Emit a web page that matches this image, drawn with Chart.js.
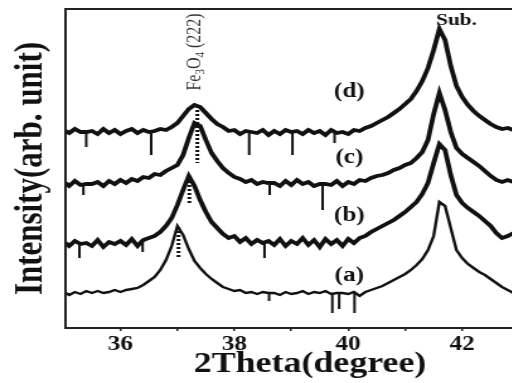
<!DOCTYPE html>
<html>
<head>
<meta charset="utf-8">
<script src="https://cdn.jsdelivr.net/npm/chart.js@4.4.1/dist/chart.umd.min.js"></script>
<style>
  html, body { margin: 0; padding: 0; background: #fff; overflow: hidden; }
  /* the source figure is stretched sideways, so the whole chart is too */
  #wrap { width: 442px; height: 383px; transform: scaleX(1.26); transform-origin: 0 0; }
</style>
</head>
<body>
<div id="wrap"><canvas id="xrd"></canvas></div>
<script>
const twoTheta = [35.04, 35.1, 35.2, 35.3, 35.4, 35.5, 35.6, 35.7, 35.8, 35.9,
  36.0, 36.1, 36.2, 36.3, 36.4, 36.5, 36.6, 36.7, 36.8, 36.9,
  37.0, 37.1, 37.2, 37.3, 37.4, 37.5, 37.6, 37.7, 37.8, 37.9,
  38.0, 38.1, 38.2, 38.3, 38.4, 38.5, 38.6, 38.7, 38.8, 38.9,
  39.0, 39.1, 39.2, 39.3, 39.4, 39.5, 39.6, 39.7, 39.8, 39.9,
  40.0, 40.1, 40.2, 40.3, 40.4, 40.5, 40.6, 40.7, 40.8, 40.9,
  41.0, 41.1, 41.2, 41.3, 41.4, 41.5, 41.6, 41.7, 41.8, 41.9,
  42.0, 42.1, 42.2, 42.3, 42.4, 42.5, 42.6, 42.7, 42.8, 42.9];

// offset intensities, arb. unit
const curveA = [35, 33, 36, 34, 37, 35, 37, 35, 36, 38,
  36, 38, 39, 40, 43, 47, 51, 58, 68, 82,
  102, 93, 79, 67, 60, 54, 49, 45, 41, 39,
  37, 38, 35, 36, 34, 36, 35, 35, 33, 36,
  34, 35, 37, 34, 36, 35, 37, 34, 35, 35,
  34, 36, 32, 36, 38, 40, 42, 45, 48, 51,
  54, 58, 63, 69, 78, 92, 126, 122, 100, 78,
  70, 64, 60, 56, 53, 49, 45, 41, 38, 35];
const curveB = [85, 82, 87, 84, 85, 82, 88, 81, 86, 84,
  87, 83, 89, 82, 88, 90, 92, 96, 102, 110,
  123, 138, 152, 142, 128, 116, 106, 100, 94, 90,
  92, 86, 90, 84, 88, 85, 87, 83, 89, 82,
  87, 84, 90, 83, 88, 81, 89, 84, 88, 82,
  89, 85, 90, 92, 96, 99, 102, 105, 108, 112,
  116, 121, 126, 134, 145, 165, 184, 178, 153, 133,
  125, 120, 116, 112, 107, 102, 95, 90, 92, 95];
const curveC = [145, 142, 147, 143, 144, 144, 146, 142, 147, 144,
  148, 145, 149, 147, 151, 150, 154, 153, 157, 160,
  163, 173, 190, 205, 202, 188, 175, 167, 160, 155,
  151, 149, 146, 148, 144, 146, 145, 145, 142, 147,
  143, 148, 144, 146, 142, 144, 144, 143, 147, 142,
  146, 144, 148, 147, 150, 152, 153, 155, 158, 160,
  163, 165, 170, 176, 188, 214, 235, 218, 196, 180,
  174, 170, 166, 162, 157, 152, 148, 146, 148, 146];
const curveD = [197, 195, 199, 196, 196, 197, 194, 199, 195, 198,
  194, 197, 199, 195, 198, 196, 197, 199, 198, 201,
  205, 212, 219, 223, 221, 215, 209, 204, 201, 197,
  198, 194, 197, 196, 195, 198, 193, 197, 194, 198,
  196, 197, 194, 198, 195, 197, 193, 198, 195, 196,
  194, 198, 197, 200, 202, 205, 208, 211, 215, 219,
  224, 229, 237, 247, 260, 278, 299, 288, 262, 242,
  231, 223, 217, 212, 208, 204, 201, 199, 200, 198];

// narrow downward glitches in the scans
const spikeTheta = [38.61, 39.72, 39.84, 40.11, 35.28, 36.39, 38.53, 35.35, 38.62, 39.55, 35.40, 36.54, 38.26, 39.02, 39.76];
const spikeBase = [35, 35, 35, 35, 84, 86, 86, 144, 145, 144, 196, 196, 196, 196, 195];
const spikeTip = [27, 15, 19, 15, 70, 76, 70, 133, 133, 118, 181, 173, 173, 173, 185];

// dotted markers under the Fe3O4 (222) peaks
const markTheta = [37.02, 37.21, 37.35];
const markTop = [101, 151, 218];
const markBottom = [71, 123, 165];

const xTickValues = [36, 37, 38, 39, 40, 41, 42, 43];
const xTickLabels = ['36', '', '38', '', '40', '', '42', ''];
const sampleNames = ['(a)', '(b)', '(c)', '(d)'];

const serif = '"Liberation Serif", "Times New Roman", serif';
const ink = '#111';

function toPoints(values) {
  return values.map((v, i) => ({ x: twoTheta[i], y: v }));
}

const datasets = [curveA, curveB, curveC, curveD].map((c, i) => ({
  data: toPoints(c),
  borderColor: ink,
  borderWidth: i === 0 ? 2.4 : 3.8,
  pointRadius: 0,
  tension: 0
}));

spikeTheta.forEach((t, i) => {
  datasets.push({
    data: [{ x: t, y: spikeBase[i] }, { x: t, y: spikeTip[i] }],
    borderColor: ink,
    borderWidth: 2,
    pointRadius: 0
  });
});

markTheta.forEach((t, i) => {
  datasets.push({
    data: [{ x: t, y: markTop[i] }, { x: t, y: markBottom[i] }],
    borderColor: ink,
    borderWidth: 3,
    borderDash: [2, 2],
    pointRadius: 0
  });
});

const labelSpots = { x: 40.02, y: [52, 112, 170, 236] };

const decorations = {
  id: 'decorations',
  afterDraw(chart) {
    const { ctx, chartArea: a, scales: { x, y } } = chart;
    ctx.save();
    ctx.strokeStyle = '#222';
    ctx.lineWidth = 2;
    ctx.strokeRect(a.left, a.top, a.right - a.left, a.bottom - a.top);

    ctx.fillStyle = ink;
    ctx.textAlign = 'center';
    ctx.textBaseline = 'middle';
    ctx.font = 'bold 20px ' + serif;
    sampleNames.forEach((n, i) => {
      ctx.fillText(n, x.getPixelForValue(labelSpots.x), y.getPixelForValue(labelSpots.y[i]));
    });
    ctx.font = 'bold 17px ' + serif;
    ctx.fillText('Sub.', x.getPixelForValue(41.9), y.getPixelForValue(307));

    // Fe3O4 (222), standing on its side
    const parts = [['Fe', 0], ['3', 1], ['O', 0], ['4', 1], [' (222)', 0]];
    const big = '16px ' + serif, small = '11px ' + serif;
    let total = 0;
    parts.forEach(p => { ctx.font = p[1] ? small : big; total += ctx.measureText(p[0]).width; });
    ctx.translate(x.getPixelForValue(37.32), y.getPixelForValue(276));
    ctx.rotate(-Math.PI / 2);
    ctx.fillStyle = '#333';
    ctx.textAlign = 'left';
    let cx = -total / 2;
    parts.forEach(p => {
      ctx.font = p[1] ? small : big;
      ctx.fillText(p[0], cx, p[1] ? 4 : 0);
      cx += ctx.measureText(p[0]).width;
    });
    ctx.restore();
  }
};

new Chart(document.getElementById('xrd'), {
  type: 'line',
  data: { datasets: datasets },
  options: {
    responsive: true,
    maintainAspectRatio: false,
    animation: false,
    layout: { padding: { top: 9, right: 2, left: 0, bottom: 0 } },
    plugins: { legend: { display: false }, tooltip: { enabled: false } },
    scales: {
      x: {
        type: 'linear',
        min: 35.036,
        max: 43.62,
        afterBuildTicks: axis => { axis.ticks = xTickValues.map(v => ({ value: v })); },
        afterFit: axis => { axis.height = 55; },
        ticks: {
          autoSkip: false,
          maxRotation: 0,
          padding: 2,
          color: ink,
          font: { family: serif, size: 20, weight: 'bold' },
          callback: (v) => xTickLabels[xTickValues.indexOf(v)] || ''
        },
        grid: { drawOnChartArea: false, tickLength: 3, color: '#222', lineWidth: 1.5 },
        border: { display: false },
        title: {
          display: true,
          text: '2Theta(degree)',
          color: ink,
          font: { family: serif, size: 28.5, weight: 'bold' },
          padding: { top: 0, bottom: 1 }
        }
      },
      y: {
        type: 'linear',
        min: 0,
        max: 319,
        afterFit: axis => { axis.width = 52; },
        ticks: { display: false },
        grid: { display: false },
        border: { display: false },
        title: {
          display: true,
          text: 'Intensity(arb. unit)',
          color: ink,
          font: { family: serif, size: 31, weight: 'bold' },
          padding: { top: 6, bottom: 0 }
        }
      }
    }
  },
  plugins: [decorations]
});
</script>
</body>
</html>
